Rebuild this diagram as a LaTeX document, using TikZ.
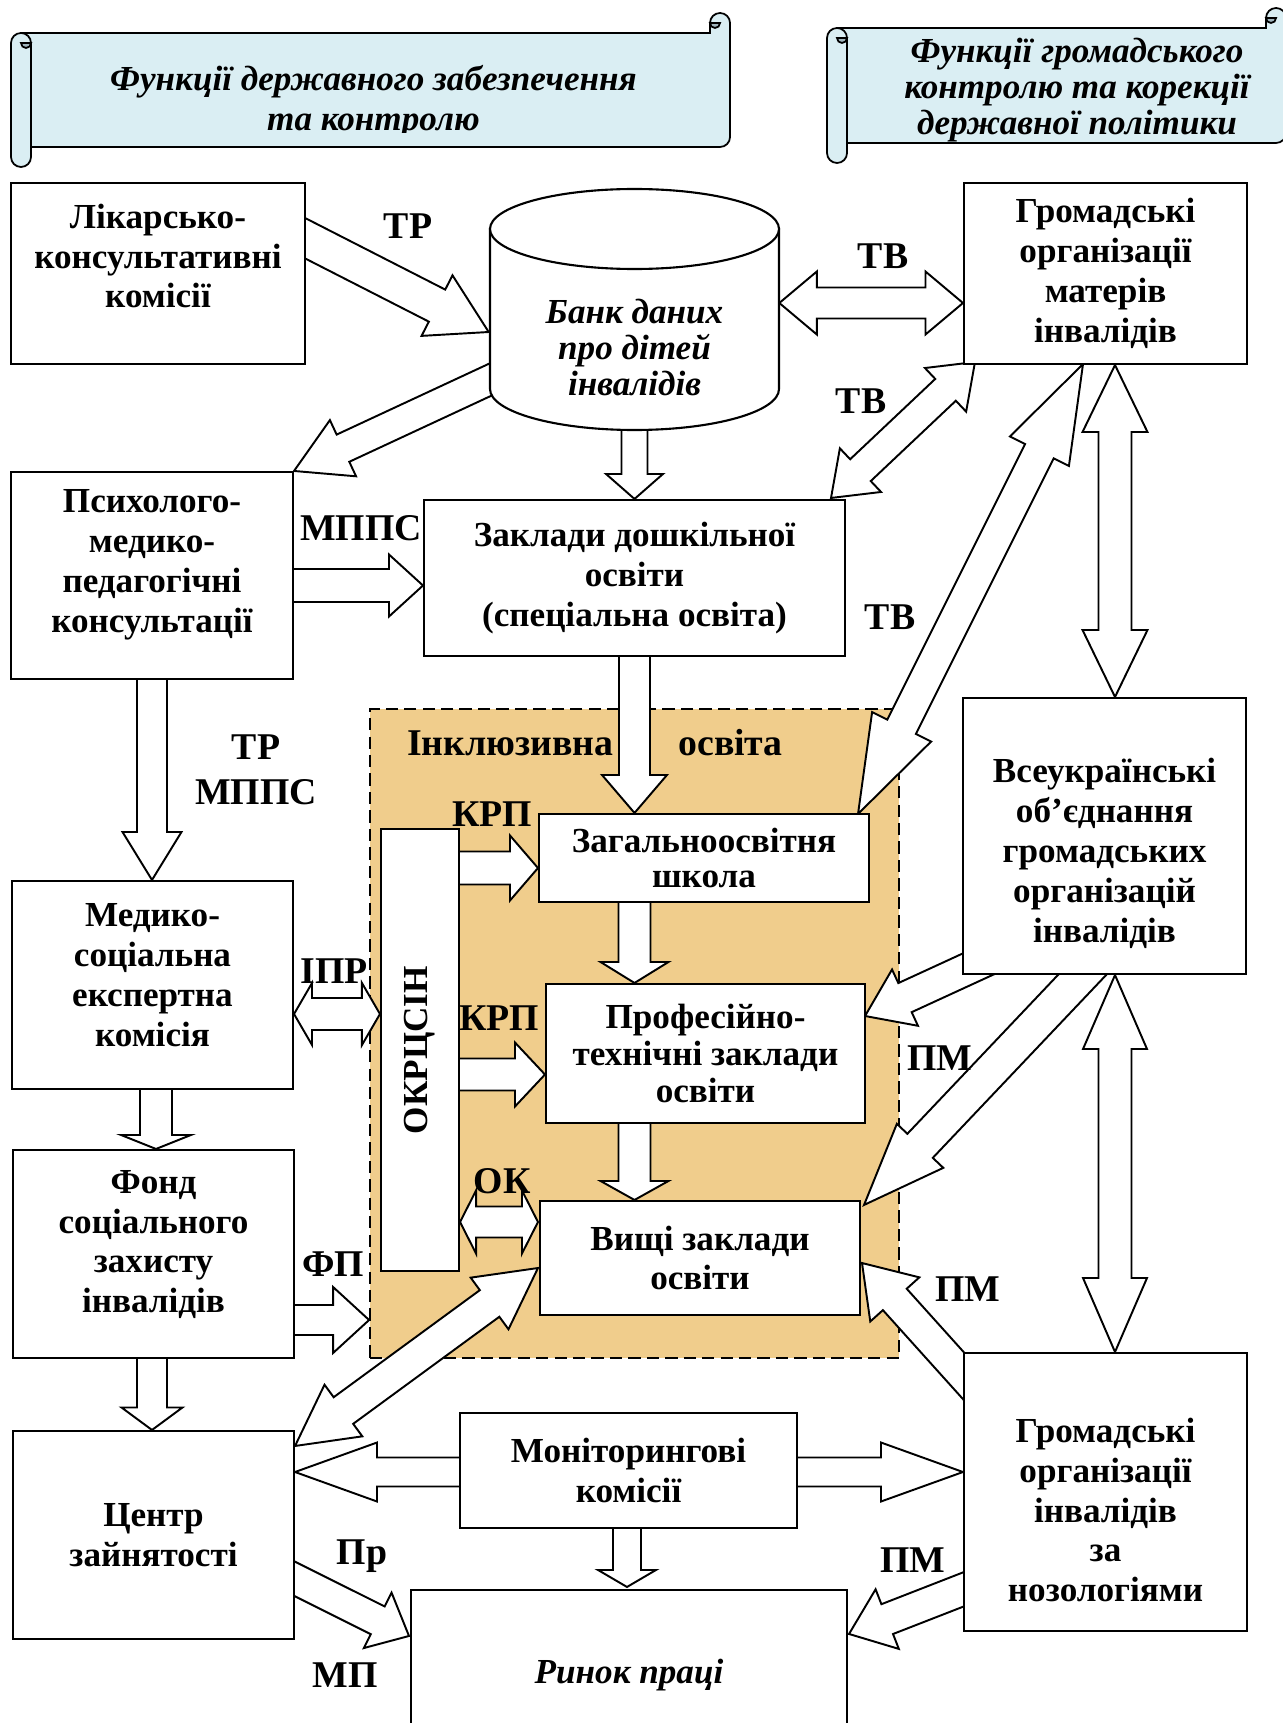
\documentclass[tikz,border=0pt]{standalone}
\usepackage{fontspec}
\setmainfont{Liberation Serif}
\usetikzlibrary{calc}
\definecolor{scrollblue}{RGB}{218,238,243}
\definecolor{scrollgray}{RGB}{160,180,188}
\definecolor{incltan}{RGB}{240,205,140}
\pgfdeclarelayer{backlayer}
\pgfdeclarelayer{arrowlayer}
\pgfsetlayers{backlayer,arrowlayer,main}
\newcommand\boxfont{\fontsize{20}{22.7}\selectfont\bfseries}
\newcommand\lblfont{\fontsize{21.5}{24}\selectfont\bfseries}
% block arrow: from, to, shaft half width, head half width, head length
\newcommand\blockarrow[5]{%
  \draw[blk] ($(#1)!#3!-90:(#2)$) -- ($(#2)!#5!(#1)!#3!90:(#1)$) -- ($(#2)!#5!(#1)!#4!90:(#1)$)
    -- (#2) -- ($(#2)!#5!(#1)!#4!-90:(#1)$) -- ($(#2)!#5!(#1)!#3!-90:(#1)$) -- ($(#1)!#3!90:(#2)$) -- cycle;}
\newcommand\dblarrow[5]{%
  \draw[blk] (#1) -- ($(#1)!#5!(#2)!#4!-90:(#2)$) -- ($(#1)!#5!(#2)!#3!-90:(#2)$)
    -- ($(#2)!#5!(#1)!#3!90:(#1)$) -- ($(#2)!#5!(#1)!#4!90:(#1)$) -- (#2)
    -- ($(#2)!#5!(#1)!#4!-90:(#1)$) -- ($(#2)!#5!(#1)!#3!-90:(#1)$)
    -- ($(#1)!#5!(#2)!#3!90:(#2)$) -- ($(#1)!#5!(#2)!#4!90:(#2)$) -- cycle;}
\newcommand\drawscroll[4]{%
  \draw[scroll] ({#1+10},{#2+20}) -- ({#3-20},{#2+20}) -- ({#3-20},{#2+10}) arc (180:360:10)
    -- ({#3},{#4-30}) arc (0:90:10) -- ({#1+10},{#4-20}) -- cycle;
  \draw[scroll,fill=scrollgray] ({#3-10},{#2+10}) arc (0:180:5) -- cycle;
  \draw[scroll] (#1,{#2+30}) arc (180:360:10) -- ({#1+20},{#4-10}) arc (0:180:10) -- cycle;
  \draw[scroll,fill=scrollgray] ({#1+10},{#2+30}) arc (180:0:5) -- cycle;}

\begin{document}
\begin{tikzpicture}[x=0.02cm, y=-0.02cm,
  box/.style={draw, fill=white, line width=1.2pt, align=center, inner sep=0pt, font=\boxfont},
  txt/.style={align=center, inner sep=0pt, font=\boxfont},
  lbl/.style={inner sep=0pt, font=\lblfont},
  blk/.style={draw, fill=white, line width=1.1pt, line join=miter},
  scroll/.style={draw, fill=scrollblue, line width=1pt},
  inclarea/.style={draw, fill=incltan, line width=1.1pt, dash pattern=on 7pt off 3.5pt}
]
\useasboundingbox (0,0) rectangle (1282,1723);

\drawscroll{11}{13}{730}{167}
\drawscroll{827}{8}{1286}{163}
\begin{scope}
  \clip (31,33) rectangle (730,133);
  \node[txt, font=\fontsize{20}{22.7}\selectfont\bfseries\itshape] (head-left) at (373.5,102)
    {Функції державного забезпечення\\та контролю};
\end{scope}
\node[txt, font=\fontsize{20}{20.4}\selectfont\bfseries\itshape] (head-right) at (1077,90)
  {Функції громадського\\контролю та корекції\\державної політики};

\begin{pgfonlayer}{backlayer}
  \node[inclarea, minimum width=10.58cm, minimum height=12.98cm] (incl) at (634.5,1033.5) {};
\end{pgfonlayer}

\draw[line width=1.2pt, fill=white] (490,229) -- (490,389) arc[start angle=180, end angle=0, x radius=144.5, y radius=41] -- (779,229) -- cycle;
\draw[line width=1.2pt, fill=white] (634.5,229) ellipse [x radius=144.5, y radius=40];
\node[txt, font=\fontsize{20}{20.4}\selectfont\bfseries\itshape, minimum width=5.78cm, minimum height=3.3cm] (bank) at (634.5,347.5)
  {Банк даних\\про дітей\\інвалідів};

\node[box, minimum width=5.88cm, minimum height=3.62cm] (lkk) at (158,273.5) {};
\node[txt] (lkk-t) at (158,256) {Лікарсько-\\консультативні\\комісії};
\node[box, minimum width=5.66cm, minimum height=3.62cm] (gom) at (1105.5,273.5) {Громадські\\організації\\матерів\\інвалідів};
\node[box, minimum width=5.64cm, minimum height=4.14cm] (pmpk) at (152,575.5) {};
\node[txt] (pmpk-t) at (152,565) {Психолого-\\медико-\\педагогічні\\консультації};
\node[box, minimum width=8.42cm, minimum height=3.12cm] (zdo) at (634.5,578) {Заклади дошкільної\\освіти\\(спеціальна освіта)};
\node[box, minimum width=1.56cm, minimum height=8.84cm] (okr) at (420,1050) {};
\node[txt, rotate=90] (okr-t) at (okr) {ОКРЦСІН};
\node[box, minimum width=6.6cm, minimum height=1.76cm, font=\fontsize{20}{19.9}\selectfont\bfseries] (school) at (704,858) {Загальноосвітня\\школа};
\node[box, minimum width=6.38cm, minimum height=2.78cm, font=\fontsize{20}{21}\selectfont\bfseries] (ptu) at (705.5,1053.5) {Професійно-\\технічні заклади\\освіти};
\node[box, minimum width=6.4cm, minimum height=2.28cm] (vuz) at (700,1258) {Вищі заклади\\освіти};
\node[box, minimum width=5.66cm, minimum height=5.52cm] (vse) at (1104.5,836) {};
\node[txt] (vse-t) at (1104.5,853.5) {Всеукраїнські\\об’єднання\\громадських\\організацій\\інвалідів};
\node[box, minimum width=5.62cm, minimum height=4.16cm] (mske) at (152.5,985) {};
\node[txt] (mske-t) at (152.5,975) {Медико-\\соціальна\\експертна\\комісія};
\node[box, minimum width=5.62cm, minimum height=4.16cm] (fond) at (153.5,1254) {};
\node[txt] (fond-t) at (153.5,1244.5) {Фонд\\соціального\\захисту\\інвалідів};
\node[box, minimum width=5.62cm, minimum height=4.16cm] (czn) at (153.5,1535) {Центр\\зайнятості};
\node[box, minimum width=6.74cm, minimum height=2.3cm] (monit) at (628.5,1470.5) {Моніторингові\\комісії};
\node[box, minimum width=5.66cm, minimum height=5.56cm] (gon) at (1105.5,1492) {};
\node[txt] (gon-t) at (1105.5,1510) {Громадські\\організації\\інвалідів\\за\\нозологіями};
\node[box, minimum width=8.72cm, minimum height=3.4cm, font=\fontsize{20}{22.7}\selectfont\bfseries\itshape] (rynok) at (629,1675) {Ринок праці};

\coordinate (tr-s) at ($(lkk.east)+(-18,-44)$);
\coordinate (tr-e) at ($(bank.west)+(-1,-15.5)$);
\coordinate (bp-s) at ($(bank.west)+(16,25)$);
\coordinate (bz-s) at ($(bank.south)+(0,-20)$);
\coordinate (bg-w) at ($(bank.east)+(0,-44.5)$);
\coordinate (bg-e) at (gom.west |- bg-w);
\coordinate (zg-s) at ($(zdo.north east)+(-15,-1)$);
\coordinate (zg-e) at ($(gom.south west)+(12,-3)$);
\coordinate (sg-s) at ($(school.north east)+(-12,1)$);
\coordinate (sg-e) at ($(gom.south)+(-22.5,-1)$);
\coordinate (gv-s) at ($(gom.south)+(9.5,0)$);
\coordinate (gv-e) at (gv-s |- vse.north);
\coordinate (pz-s) at ($(pmpk.east)+(-10,10)$);
\coordinate (pz-e) at (zdo.west |- pz-s);
\coordinate (pm-s) at ($(pmpk.south)+(0,-10)$);
\coordinate (pm-e) at (pm-s |- mske.north);
\coordinate (zs-s) at ($(zdo.south)+(0,-10)$);
\coordinate (zs-e) at (zs-s |- school.north);
\coordinate (sp-s) at ($(zs-s |- school.south)+(0,-10)$);
\coordinate (sp-e) at (zs-s |- ptu.north);
\coordinate (pv-s) at ($(zs-s |- ptu.south)+(0,-10)$);
\coordinate (pv-e) at (zs-s |- vuz.north);
\coordinate (os-s) at ($(okr.east |- school.west)+(-10,10)$);
\coordinate (os-e) at ($(school.west)+(0,10)$);
\coordinate (op-s) at ($(okr.east |- ptu.west)+(-10,21)$);
\coordinate (op-e) at ($(ptu.west)+(0,21)$);
\coordinate (ov-s) at ($(okr.east |- vuz.west)+(0,-36)$);
\coordinate (ov-e) at ($(vuz.west)+(-1,-36)$);
\coordinate (mo-s) at ($(mske.east)+(0,29)$);
\coordinate (mo-e) at (okr.west |- mo-s);
\coordinate (fi-s) at ($(fond.east)+(-10,66)$);
\coordinate (fi-e) at (incl.west |- fi-s);
\coordinate (mf-s) at ($(mske.south)+(3.5,-10)$);
\coordinate (mf-e) at (mf-s |- fond.north);
\coordinate (fc-s) at ($(fond.south)+(-1.5,-10)$);
\coordinate (fc-e) at (fc-s |- czn.north);
\coordinate (mr-s) at ($(monit.south)+(-1.5,-10)$);
\coordinate (mr-e) at ($(mr-s |- rynok.north)+(0,-2)$);
\coordinate (cg-w) at ($(czn.east)+(0,-63)$);
\coordinate (cg-e) at (gon.west |- cg-w);
\coordinate (cr-s) at ($(czn.east)+(-12,38)$);
\coordinate (cr-e) at ($(rynok.north west)+(-1,47)$);
\coordinate (gr-s) at ($(gon.west)+(13,92.5)$);
\coordinate (gr-e) at ($(rynok.north east)+(1,45)$);
\coordinate (cv-s) at ($(czn.north east)+(0,16)$);
\coordinate (cv-e) at ($(vuz.west)+(-1,10)$);
\coordinate (gvz-s) at ($(gon.north west)+(16,41)$);
\coordinate (gvz-e) at ($(vuz.east)+(1,5)$);
\coordinate (vp-s) at ($(vse.south west)+(40,-22)$);
\coordinate (vp-e) at ($(ptu.east)+(-1,-37.5)$);
\coordinate (vv-s) at ($(vse.south)+(-4.5,-19)$);
\coordinate (vv-e) at ($(vuz.north east)+(3,5)$);
\coordinate (vg-s) at ($(vse.south)+(10.5,0)$);
\coordinate (vg-e) at (vg-s |- gon.north);

\begin{pgfonlayer}{arrowlayer}
\blockarrow{tr-s}{tr-e}{0.36cm}{0.68cm}{1.16cm}
\blockarrow{bp-s}{pmpk.north east}{0.30cm}{0.62cm}{1.08cm}
\blockarrow{bz-s}{zdo.north}{0.26cm}{0.57cm}{0.50cm}
\dblarrow{bg-w}{bg-e}{0.31cm}{0.63cm}{0.75cm}
\dblarrow{zg-s}{zg-e}{0.30cm}{0.60cm}{0.81cm}
\dblarrow{sg-s}{sg-e}{0.32cm}{0.66cm}{1.95cm}
\dblarrow{gv-s}{gv-e}{0.33cm}{0.65cm}{1.34cm}
\blockarrow{pz-s}{pz-e}{0.33cm}{0.62cm}{0.68cm}
\blockarrow{pm-s}{pm-e}{0.30cm}{0.59cm}{0.96cm}
\blockarrow{zs-s}{zs-e}{0.31cm}{0.65cm}{0.76cm}
\blockarrow{sp-s}{sp-e}{0.32cm}{0.68cm}{0.42cm}
\blockarrow{pv-s}{pv-e}{0.32cm}{0.68cm}{0.38cm}
\blockarrow{os-s}{os-e}{0.33cm}{0.65cm}{0.56cm}
\blockarrow{op-s}{op-e}{0.32cm}{0.64cm}{0.60cm}
\dblarrow{ov-s}{ov-e}{0.31cm}{0.63cm}{0.32cm}
\dblarrow{mo-s}{mo-e}{0.32cm}{0.62cm}{0.36cm}
\blockarrow{fi-s}{fi-e}{0.30cm}{0.66cm}{0.72cm}
\blockarrow{mf-s}{mf-e}{0.32cm}{0.70cm}{0.28cm}
\blockarrow{fc-s}{fc-e}{0.30cm}{0.61cm}{0.45cm}
\blockarrow{mr-s}{mr-e}{0.28cm}{0.58cm}{0.34cm}
\dblarrow{cg-w}{cg-e}{0.29cm}{0.59cm}{1.64cm}
\blockarrow{cr-s}{cr-e}{0.31cm}{0.62cm}{0.70cm}
\blockarrow{gr-s}{gr-e}{0.32cm}{0.64cm}{0.82cm}
\dblarrow{cv-s}{cv-e}{0.33cm}{0.64cm}{1.20cm}
\blockarrow{gvz-s}{gvz-e}{0.32cm}{0.66cm}{0.98cm}
\blockarrow{vp-s}{vp-e}{0.32cm}{0.62cm}{0.88cm}
\blockarrow{vv-s}{vv-e}{0.35cm}{0.64cm}{1.63cm}
\dblarrow{vg-s}{vg-e}{0.33cm}{0.64cm}{1.48cm}
\end{pgfonlayer}

\node[lbl] (incl-t) at (595,743) {Інклюзивна\hspace*{1.3cm}освіта};
\node[lbl] (l-tr) at (408,226) {ТР};
\node[lbl] (l-tv1) at (883,256) {ТВ};
\node[lbl] (l-tv2) at (861,401) {ТВ};
\node[lbl] (l-mpps) at (361,528) {МППС};
\node[lbl] (l-tv3) at (890,617) {ТВ};
\node[lbl, align=center, font=\fontsize{21.5}{25.6}\selectfont\bfseries] (l-trmpps) at (256,770) {ТР\\МППС};
\node[lbl] (l-krp1) at (492,814) {КРП};
\node[lbl] (l-ipr) at (334,971) {ІПР};
\node[lbl] (l-krp2) at (499,1018) {КРП};
\node[lbl] (l-pm1) at (940,1058) {ПМ};
\node[lbl] (l-ok) at (502,1181) {ОК};
\node[lbl] (l-fp) at (333,1264) {ФП};
\node[lbl] (l-pm2) at (968,1289) {ПМ};
\node[lbl] (l-pr) at (362,1556) {Пр};
\node[lbl] (l-pm3) at (913,1560) {ПМ};
\node[lbl] (l-mp) at (345,1675) {МП};
\end{tikzpicture}
\end{document}
